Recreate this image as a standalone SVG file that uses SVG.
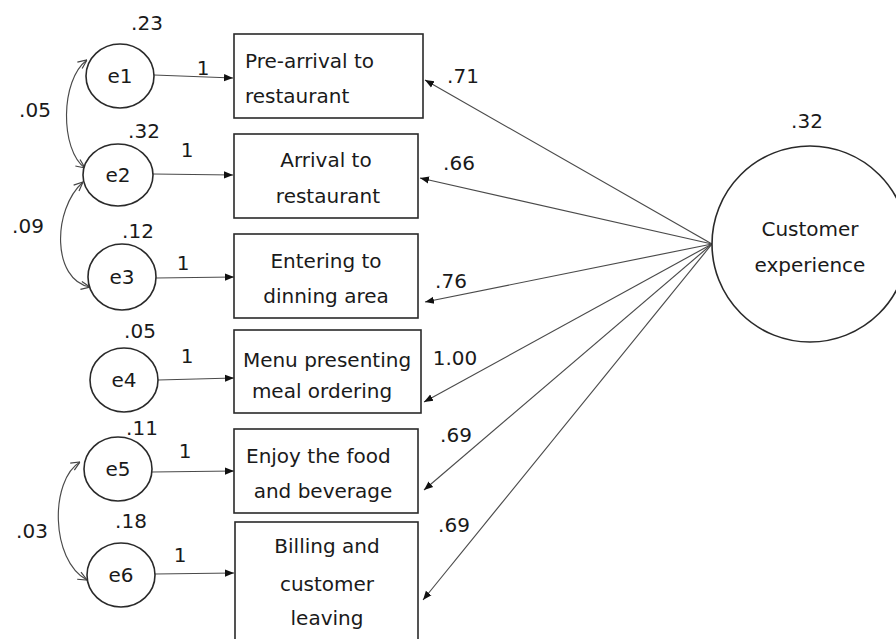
<svg xmlns="http://www.w3.org/2000/svg" width="896" height="639" viewBox="0 0 896 639">
  <style>
    text { font-family: "DejaVu Sans", "Liberation Sans", sans-serif; fill: #1a1a1a; }
    .lbl { font-size: 20px; text-anchor: middle; }
    .num { font-size: 20px; text-anchor: middle; }
    .box { fill: #fff; stroke: #2a2a2a; stroke-width: 1.6; }
    .err { fill: #fff; stroke: #2a2a2a; stroke-width: 1.6; }
    .path { fill: none; stroke: #4a4a4a; stroke-width: 1.15; }
    .cov { fill: none; stroke: #4a4a4a; stroke-width: 1.15; }
  </style>
  <defs>
    <marker id="tri" viewBox="0 0 10 10" refX="10" refY="5" markerWidth="9" markerHeight="9" markerUnits="userSpaceOnUse" orient="auto">
      <path d="M0,1 L10,5 L0,9 z" fill="#111"/>
    </marker>
    <marker id="chev" viewBox="0 0 10 10" refX="10" refY="5" markerWidth="10" markerHeight="10" markerUnits="userSpaceOnUse" orient="auto-start-reverse">
      <path d="M1,1 L10,5 L1,9" fill="none" stroke="#444" stroke-width="1.2"/>
    </marker>
  </defs>

  <rect width="896" height="639" fill="#fff"/>

  <!-- connectors -->
  <g id="connectors">
    <!-- error terms to indicators -->
    <line class="path" x1="154" y1="75" x2="233" y2="78" marker-end="url(#tri)"/>
    <line class="path" x1="153" y1="174" x2="233" y2="175" marker-end="url(#tri)"/>
    <line class="path" x1="156" y1="278" x2="234" y2="277" marker-end="url(#tri)"/>
    <line class="path" x1="158" y1="380" x2="234" y2="378" marker-end="url(#tri)"/>
    <line class="path" x1="152" y1="472" x2="234" y2="471" marker-end="url(#tri)"/>
    <line class="path" x1="155" y1="574" x2="234" y2="573" marker-end="url(#tri)"/>
    <!-- factor loadings -->
    <line class="path" x1="712" y1="244" x2="425" y2="80" marker-end="url(#tri)"/>
    <line class="path" x1="712" y1="244" x2="420" y2="178" marker-end="url(#tri)"/>
    <line class="path" x1="712" y1="244" x2="425" y2="302" marker-end="url(#tri)"/>
    <line class="path" x1="712" y1="244" x2="424" y2="402" marker-end="url(#tri)"/>
    <line class="path" x1="712" y1="244" x2="424" y2="490" marker-end="url(#tri)"/>
    <line class="path" x1="712" y1="244" x2="423" y2="600" marker-end="url(#tri)"/>
    <!-- covariances -->
    <path class="cov" d="M87,60 C60,80 60,150 85,168" marker-start="url(#chev)" marker-end="url(#chev)"/>
    <path class="cov" d="M83,182 C52,210 52,280 90,287" marker-start="url(#chev)" marker-end="url(#chev)"/>
    <path class="cov" d="M80,462 C50,480 50,560 87,580" marker-start="url(#chev)" marker-end="url(#chev)"/>
  </g>

  <!-- indicators -->
  <g id="box1">
    <rect class="box" x="234" y="34" width="189" height="84"/>
    <text class="lbl" x="245" y="68" style="text-anchor:start">Pre-arrival to</text>
    <text class="lbl" x="245" y="103" style="text-anchor:start">restaurant</text>
  </g>
  <g id="box2">
    <rect class="box" x="234" y="134" width="184" height="84"/>
    <text class="lbl" x="326" y="167">Arrival to</text>
    <text class="lbl" x="328" y="203">restaurant</text>
  </g>
  <g id="box3">
    <rect class="box" x="234" y="234" width="184" height="84"/>
    <text class="lbl" x="326" y="268">Entering to</text>
    <text class="lbl" x="326" y="303">dinning area</text>
  </g>
  <g id="box4">
    <rect class="box" x="234" y="330" width="187" height="83"/>
    <text class="lbl" x="327" y="367">Menu presenting</text>
    <text class="lbl" x="322" y="398">meal ordering</text>
  </g>
  <g id="box5">
    <rect class="box" x="234" y="429" width="184" height="84"/>
    <text class="lbl" x="246" y="463" style="text-anchor:start">Enjoy the food</text>
    <text class="lbl" x="323" y="498">and beverage</text>
  </g>
  <g id="box6">
    <rect class="box" x="235" y="522" width="183" height="130"/>
    <text class="lbl" x="327" y="553">Billing and</text>
    <text class="lbl" x="327" y="591">customer</text>
    <text class="lbl" x="327" y="625">leaving</text>
  </g>

  <!-- error terms -->
  <g id="e1">
    <ellipse class="err" cx="120" cy="76" rx="34" ry="32"/>
    <text class="lbl" x="120" y="83">e1</text>
  </g>
  <g id="e2">
    <ellipse class="err" cx="118" cy="175" rx="35" ry="31"/>
    <text class="lbl" x="118" y="182">e2</text>
  </g>
  <g id="e3">
    <ellipse class="err" cx="122" cy="277" rx="34" ry="33"/>
    <text class="lbl" x="122" y="284">e3</text>
  </g>
  <g id="e4">
    <ellipse class="err" cx="124" cy="380" rx="34" ry="32"/>
    <text class="lbl" x="124" y="387">e4</text>
  </g>
  <g id="e5">
    <ellipse class="err" cx="118" cy="469" rx="34" ry="32"/>
    <text class="lbl" x="118" y="476">e5</text>
  </g>
  <g id="e6">
    <ellipse class="err" cx="121" cy="575" rx="34" ry="32"/>
    <text class="lbl" x="121" y="582">e6</text>
  </g>

  <!-- latent factor -->
  <g id="customer-experience">
    <ellipse class="err" cx="810" cy="244" rx="98" ry="98"/>
    <text class="lbl" x="810" y="236">Customer</text>
    <text class="lbl" x="810" y="272">experience</text>
  </g>

  <!-- estimates -->
  <g id="estimates">
    <text class="num" x="147" y="30">.23</text>
    <text class="num" x="144" y="138">.32</text>
    <text class="num" x="138" y="238">.12</text>
    <text class="num" x="140" y="338">.05</text>
    <text class="num" x="142" y="435">.11</text>
    <text class="num" x="131" y="528">.18</text>
    <text class="num" x="35" y="117">.05</text>
    <text class="num" x="28" y="233">.09</text>
    <text class="num" x="32" y="538">.03</text>
    <text class="num" x="203" y="75">1</text>
    <text class="num" x="187" y="157">1</text>
    <text class="num" x="183" y="270">1</text>
    <text class="num" x="187" y="363">1</text>
    <text class="num" x="185" y="458">1</text>
    <text class="num" x="180" y="562">1</text>
    <text class="num" x="463" y="83">.71</text>
    <text class="num" x="459" y="170">.66</text>
    <text class="num" x="451" y="288">.76</text>
    <text class="num" x="455" y="365">1.00</text>
    <text class="num" x="456" y="442">.69</text>
    <text class="num" x="454" y="532">.69</text>
    <text class="num" x="807" y="128">.32</text>
  </g>
</svg>
